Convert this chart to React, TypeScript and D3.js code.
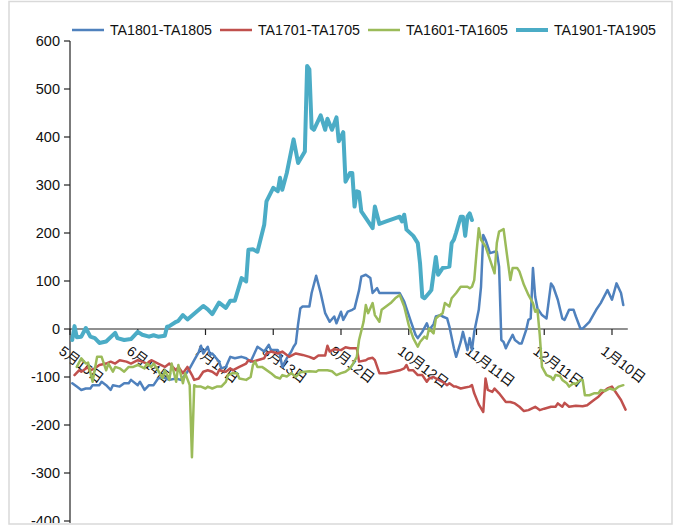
import React from "react";
import * as d3 from "d3";

// ---- data (day offset from 5月15日, value) ----
const seriesNames = ["TA1801-TA1805", "TA1701-TA1705", "TA1601-TA1605", "TA1901-TA1905"];

const ta1801: [number, number][] = [
  [1, -113], [3, -120], [5, -127], [7, -124], [9, -124], [10, -117], [13, -117], [14, -110],
  [16, -117], [18, -127], [19, -117], [22, -120], [24, -113], [26, -113], [27, -106], [30, -117],
  [31, -110], [33, -127], [35, -117], [37, -117], [39, -103], [41, -100], [44, -106], [47, -103],
  [49, -106], [51, -96], [53, -82], [55, -65], [57, -48], [58, -35], [59, -51], [61, -37],
  [62, -54], [63, -51], [66, -68], [67, -82], [69, -79], [71, -58], [73, -61], [76, -58],
  [78, -61], [80, -68], [81, -58], [83, -37], [86, -47], [88, -33], [89, -44], [92, -44],
  [93, -54], [94, -79], [96, -61], [98, -47], [99, -37], [100, -30], [101, 10], [102, 43],
  [103, 47], [106, 47], [107, 75], [109, 111], [111, 75], [113, 33], [115, 15], [117, 26],
  [118, 12], [120, 36], [121, 19], [123, 36], [125, 40], [126, 43], [128, 81], [129, 109],
  [131, 113], [133, 106], [134, 75], [136, 85], [137, 75], [142, 75], [146, 75], [148, 57],
  [151, 15], [153, -12], [154, -19], [156, -6], [158, 12], [159, -2], [161, 10], [162, 26],
  [164, 29], [165, 26], [167, 22], [168, 5], [170, -40], [171, -58], [173, -27], [174, -6],
  [176, -44], [177, -19], [178, -44], [179, -6], [181, 40], [182, 88], [183, 196], [184, 186],
  [186, 158], [188, 161], [189, 161], [190, 130], [191, -23], [192, -27], [193, -40], [194, -30],
  [196, -12], [197, -23], [199, -30], [200, -30], [202, -2], [203, 19], [204, 22], [205, 127],
  [206, 67], [207, 43], [209, 29], [211, 22], [213, 95], [214, 88], [216, 61], [218, 22],
  [219, 19], [221, 40], [223, 40], [224, 26], [226, 1], [227, 1], [230, 15], [233, 40],
  [235, 54], [238, 81], [240, 61], [242, 95], [244, 75], [245, 50],
];

const ta1701: [number, number][] = [
  [2, -96], [4, -86], [5, -89], [8, -79], [9, -86], [11, -82], [13, -75], [16, -72],
  [18, -68], [20, -72], [22, -65], [25, -68], [27, -72], [30, -65], [32, -68], [34, -72],
  [36, -65], [39, -72], [42, -79], [44, -72], [47, -86], [48, -79], [50, -92], [52, -79],
  [54, -96], [55, -106], [57, -103], [59, -89], [61, -86], [63, -89], [65, -96], [66, -86],
  [69, -89], [71, -82], [72, -86], [75, -79], [78, -72], [79, -65], [81, -68], [83, -65],
  [86, -61], [87, -51], [89, -47], [92, -51], [94, -47], [96, -54], [97, -58], [100, -51],
  [103, -54], [106, -58], [108, -62], [110, -55], [113, -55], [114, -35], [115, -47], [117, -42],
  [120, -44], [122, -38], [124, -40], [127, -40], [128, -68], [131, -65], [132, -62], [134, -60],
  [135, -65], [137, -92], [140, -92], [143, -89], [146, -86], [148, -82], [149, -75], [150, -86],
  [152, -86], [154, -96], [156, -96], [158, -110], [159, -103], [161, -100], [162, -103], [165, -110],
  [167, -117], [168, -113], [170, -120], [171, -120], [173, -124], [175, -122], [177, -120], [178, -117],
  [179, -134], [181, -157], [183, -173], [184, -103], [185, -127], [187, -131], [188, -124], [190, -134],
  [193, -152], [195, -152], [197, -155], [199, -162], [201, -171], [203, -169], [206, -162], [208, -169],
  [210, -166], [213, -162], [215, -162], [216, -155], [218, -162], [219, -154], [221, -162], [224, -160],
  [227, -161], [229, -159], [232, -148], [234, -141], [236, -131], [238, -124], [240, -120], [241, -127],
  [244, -148], [246, -168],
];

const ta1601: [number, number][] = [
  [3, -79], [5, -61], [7, -72], [8, -70], [10, -110], [12, -58], [14, -58], [16, -86],
  [17, -72], [19, -89], [20, -79], [22, -82], [24, -89], [26, -79], [28, -79], [30, -75],
  [33, -82], [34, -72], [36, -79], [37, -72], [39, -86], [41, -103], [42, -86], [44, -106],
  [45, -72], [47, -110], [48, -75], [50, -113], [51, -92], [53, -117], [54, -267], [55, -117],
  [56, -120], [58, -120], [60, -124], [61, -120], [63, -124], [65, -120], [67, -120], [69, -110],
  [70, -96], [72, -92], [74, -92], [75, -103], [78, -106], [80, -100], [81, -75], [82, -68],
  [83, -79], [85, -79], [86, -82], [89, -92], [91, -100], [93, -103], [94, -96], [96, -99],
  [98, -92], [100, -100], [102, -90], [106, -88], [109, -89], [110, -86], [112, -86], [114, -86],
  [116, -88], [118, -96], [120, -92], [122, -89], [124, -82], [125, -75], [127, -58], [128, -23],
  [130, 15], [131, 50], [132, 33], [134, 54], [135, 29], [137, 15], [138, 40], [142, 54],
  [144, 64], [146, 71], [148, 47], [150, 8], [152, -19], [154, -37], [155, -27], [157, -16],
  [158, -20], [159, 1], [161, -9], [162, 22], [163, 26], [165, 33], [166, 54], [168, 47],
  [169, 64], [171, 75], [173, 88], [176, 88], [177, 85], [178, 88], [179, 102], [180, 158],
  [181, 210], [182, 186], [184, 172], [186, 144], [188, 116], [189, 179], [190, 203], [192, 208],
  [193, 172], [195, 102], [196, 127], [198, 127], [199, 120], [201, 92], [203, 71], [205, 54],
  [206, 36], [207, 40], [208, -12], [209, -79], [211, -96], [213, -100], [214, -106], [215, -96],
  [217, -98], [218, -106], [220, -113], [221, -120], [223, -113], [224, -115], [226, -106], [227, -106],
  [228, -138], [230, -138], [232, -134], [234, -134], [235, -127], [237, -129], [239, -124], [241, -127],
  [243, -120], [245, -117],
];

const ta1901: [number, number][] = [
  [1, -23], [2, 6], [3, -17], [5, -16], [7, 2], [9, -16], [11, -19], [13, -29],
  [16, -26], [20, -8], [21, -19], [24, -23], [27, -21], [30, -6], [32, -12], [35, -16],
  [37, -13], [39, -16], [42, -14], [43, 5], [44, 6], [47, 15], [48, 17], [50, 29],
  [52, 20], [56, 36], [59, 48], [61, 41], [63, 31], [66, 55], [69, 44], [71, 59],
  [73, 59], [76, 106], [78, 99], [79, 165], [81, 166], [83, 161], [86, 217], [87, 266],
  [90, 294], [92, 287], [93, 315], [94, 290], [96, 325], [99, 395], [101, 346], [104, 370],
  [105, 548], [106, 541], [107, 419], [108, 415], [111, 445], [113, 415], [114, 438], [116, 415],
  [118, 441], [119, 391], [121, 410], [122, 307], [124, 325], [125, 325], [126, 255], [127, 287],
  [128, 285], [129, 245], [132, 224], [134, 210], [135, 255], [137, 219], [140, 224], [146, 234],
  [147, 224], [148, 238], [149, 207], [152, 194], [154, 179], [155, 137], [156, 67], [157, 64],
  [159, 75], [160, 81], [162, 150], [163, 113], [165, 127], [168, 130], [169, 179], [170, 186],
  [171, 201], [173, 234], [174, 234], [175, 194], [176, 234], [177, 241], [178, 227],
];

const seriesData = [ta1801, ta1701, ta1601, ta1901];

const xTickDays = [0, 30, 60, 90, 120, 150, 180, 210, 240];
const xTickLabels = ["5月15日", "6月14日", "7月14日", "8月13日", "9月12日", "10月12日", "11月11日", "12月11日", "1月10日"];
const yTicks = [-400, -300, -200, -100, 0, 100, 200, 300, 400, 500, 600];

// ---- styles ----
const colors = ["#4F81BD", "#C0504D", "#9BBB59", "#4BACC6"];
const widths = [2.5, 2.5, 2.5, 4];
const W = 675;
const H = 527;
const latin = "'Liberation Sans', Arial, sans-serif";
const cjk = "'Liberation Sans', 'Noto Sans CJK SC', sans-serif";

export default function App() {
  const x = d3.scaleLinear().domain([0, 247]).range([70, 627.8]);
  const y = d3.scaleLinear().domain([-400, 600]).range([521, 41]);
  const line = d3
    .line<[number, number]>()
    .x((d) => x(d[0]))
    .y((d) => y(d[1]));

  const legendX = [72, 220, 368, 516];

  return (
    <svg
      width={W}
      height={H}
      style={{ position: "absolute", left: 0, top: 0, background: "#fff" }}
    >
      <defs>
        <clipPath id="clipAll">
          <rect x={0} y={0} width={W} height={523} />
        </clipPath>
      </defs>
      <rect x={0} y={0} width={W} height={H} fill="#fff" />
      <g clipPath="url(#clipAll)">
        {/* y axis */}
        <line x1={70} x2={70} y1={y(600)} y2={526} stroke="#222" strokeWidth={1.2} />
        {yTicks.map((t) => (
          <g key={t}>
            <line x1={64} x2={70} y1={y(t)} y2={y(t)} stroke="#222" strokeWidth={1.2} />
            <text
              x={60}
              y={y(t)}
              dy="0.36em"
              textAnchor="end"
              fontFamily={latin}
              fontSize={14.5}
              fill="#111"
            >
              {t}
            </text>
          </g>
        ))}
        {/* x axis */}
        <line x1={70} x2={x(247)} y1={y(0)} y2={y(0)} stroke="#222" strokeWidth={1.2} />
        {xTickDays.map((d) => (
          <line key={d} x1={x(d)} x2={x(d)} y1={y(0)} y2={y(0) + 6} stroke="#222" strokeWidth={1.2} />
        ))}
        {xTickDays.map((d, i) => (
          <text
            key={"l" + d}
            transform={`translate(${x(d) - 12},353) rotate(37)`}
            fontFamily={cjk}
            fontSize={14}
            fill="#111"
          >
            {xTickLabels[i]}
          </text>
        ))}
        {/* series */}
        {seriesData.map((s, i) => (
          <path
            key={i}
            d={line(s) || ""}
            fill="none"
            stroke={colors[i]}
            strokeWidth={widths[i]}
            strokeLinejoin="round"
            strokeLinecap="round"
          />
        ))}
        {/* legend */}
        {seriesNames.map((n, i) => (
          <g key={n}>
            <line
              x1={legendX[i]}
              x2={legendX[i] + 32}
              y1={30}
              y2={30}
              stroke={colors[i]}
              strokeWidth={widths[i]}
            />
            <text
              x={legendX[i] + 38}
              y={30}
              dy="0.36em"
              fontFamily={latin}
              fontSize={14.2}
              fill="#111"
            >
              {n}
            </text>
          </g>
        ))}
      </g>
      <rect x={9} y={1.5} width={663} height={522.5} fill="none" stroke="#d9d9d9" strokeWidth={1.5} />
    </svg>
  );
}
